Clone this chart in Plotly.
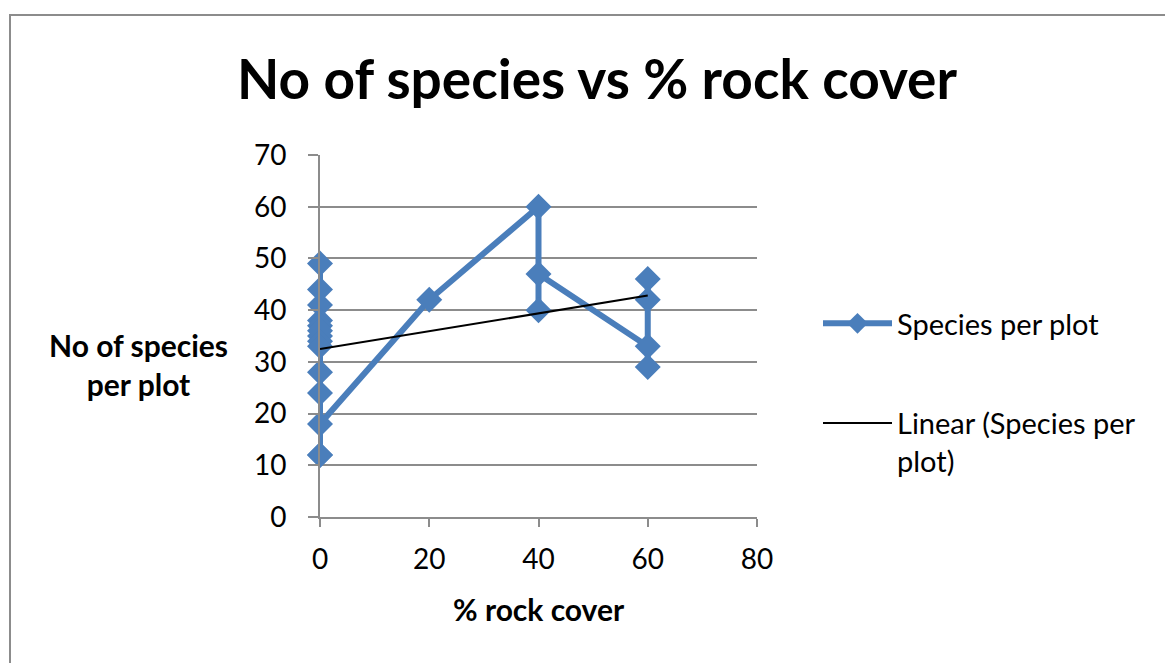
import numpy as np
import plotly.graph_objects as go

# ---- data ----
rock_cover = [0, 0, 0, 0, 0, 0, 0, 0, 0, 0, 0, 0, 0, 0,
              20,
              40, 40, 40,
              60, 60, 60, 60]
species = [49, 44, 41, 38, 37, 36, 35, 34, 33, 28, 24, 12, 12, 18,
           42,
           60, 40, 47,
           33, 29, 46, 42]
x_ticks = [0, 20, 40, 60, 80]
y_ticks = [0, 10, 20, 30, 40, 50, 60, 70]

OFF = 8  # page body margin
W, H = 1173 - OFF, 663 - OFF
ML, MT = 320 - OFF, 155 - OFF
MR = W - (757 - OFF)
MB = H - (517 - OFF)
PW, PH = W - ML - MR, H - MT - MB

FONT = "Lato"
BLUE = "#4a7ebb"
GRAY = "#8c8c8c"

# linear trendline (least squares) over data range
slope, intercept = np.polyfit(np.array(rock_cover, float), np.array(species, float), 1)
tx = np.array([min(rock_cover), max(rock_cover)], float)
ty = intercept + slope * tx

fig = go.Figure()
fig.add_trace(go.Scatter(
    x=rock_cover, y=species, mode="lines+markers", name="Species per plot",
    line=dict(color=BLUE, width=6),
    marker=dict(symbol="diamond", size=20, color=BLUE),
    legendgroup="a", cliponaxis=False,
))
fig.add_trace(go.Scatter(
    x=tx, y=ty, mode="lines", name="Linear (Species per<br>plot)",
    line=dict(color="black", width=2),
    legendgroup="b", cliponaxis=False,
))

# screen pixel -> paper coords
def px_x(p):
    return (p - OFF - ML) / PW

def px_y(p):
    return (H - MB - (p - OFF)) / PH

fig.update_layout(
    width=W, height=H,
    margin=dict(l=ML, r=MR, t=MT, b=MB, autoexpand=False),
    paper_bgcolor="white", plot_bgcolor="white",
    font=dict(family=FONT, size=28, color="black"),
    title=dict(text="<b>No of species vs % rock cover</b>",
               x=(597 - OFF) / W, xanchor="center", xref="container",
               y=1 - (80 - OFF) / H, yanchor="middle", yref="container",
               font=dict(family=FONT, size=55, color="black")),
    xaxis=dict(range=[0, 80], tickvals=x_ticks, showgrid=False, zeroline=False,
               showline=True, linecolor=GRAY, linewidth=2,
               ticks="outside", ticklen=8, tickwidth=2, tickcolor=GRAY,
               ticklabelstandoff=8,
               tickfont=dict(size=28)),
    yaxis=dict(range=[0, 70], tickvals=y_ticks, showgrid=True, gridcolor=GRAY, gridwidth=2,
               zeroline=False, showline=True, linecolor=GRAY, linewidth=2,
               ticks="outside", ticklen=10, tickwidth=2, tickcolor=GRAY,
               ticklabelstandoff=16,
               tickfont=dict(size=28)),
    legend=dict(x=px_x(818), y=px_y(298), xanchor="left", yanchor="top",
                font=dict(size=29), tracegroupgap=59, traceorder="grouped",
                itemwidth=69, valign="top", bgcolor="rgba(0,0,0,0)"),
    showlegend=True,
)

fig.add_annotation(text="<b>No of species<br>per plot</b>", xref="paper", yref="paper",
                   x=px_x(138), y=px_y(364), xanchor="center", yanchor="middle",
                   showarrow=False, font=dict(family=FONT, size=30))
fig.add_annotation(text="<b>% rock cover</b>", xref="paper", yref="paper",
                   x=0.5, y=px_y(609), xanchor="center", yanchor="middle",
                   showarrow=False, font=dict(family=FONT, size=30))

# outer chart border (cut off at right/bottom)
fig.add_shape(type="rect", xref="paper", yref="paper",
              x0=px_x(10), y0=px_y(663 + 20), x1=px_x(1173 + 20), y1=px_y(15),
              line=dict(color=GRAY, width=2), layer="below")

fig.write_html("out.html")
